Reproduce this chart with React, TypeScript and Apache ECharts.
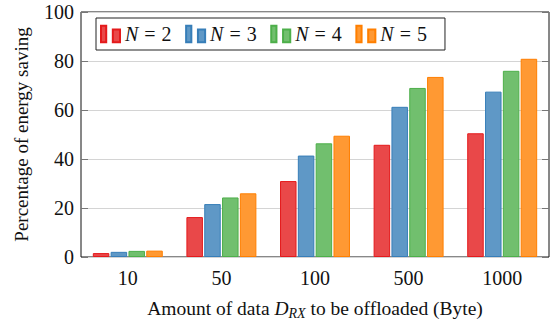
import React, { useEffect, useRef } from "react";
import * as echarts from "echarts";

const categories = ["10", "50", "100", "500", "1000"];
const seriesNames = ["N=2", "N=3", "N=4", "N=5"];
const n2 = [1.6, 16.3, 31.0, 45.8, 50.5];
const n3 = [2.1, 21.6, 41.4, 61.3, 67.5];
const n4 = [2.5, 24.3, 46.4, 69.0, 76.0];
const n5 = [2.6, 26.0, 49.5, 73.5, 80.9];
const yTicks = { min: 0, max: 100, interval: 20 };

const strokeColors = ["#e41a1c", "#377eb8", "#4daf4a", "#ff7f00"];
const fillColors = ["#e94849", "#5f98c6", "#71bf6e", "#ff9933"];

const FONT = "'Liberation Serif', 'Times New Roman', serif";
const FS = 20;

export default function App() {
  const ref = useRef<HTMLDivElement>(null);
  useEffect(() => {
    if (!ref.current) return;
    const chart = echarts.init(ref.current, undefined, { renderer: "svg" });
    const data = [n2, n3, n4, n5];
    chart.setOption({
      animation: false,
      textStyle: { fontFamily: FONT },
      grid: {
        left: 81,
        right: 7,
        top: 12,
        bottom: 67,
        show: true,
        borderColor: "#111",
        borderWidth: 1,
        backgroundColor: "transparent",
      },
      legend: {
        left: 96,
        top: 18,
        orient: "horizontal",
        padding: [6, 18, 6, 4],
        borderColor: "#222",
        borderWidth: 1,
        backgroundColor: "#fff",
        itemWidth: 19,
        itemHeight: 17,
        itemGap: 13.5,
        icon: "path://M0,0h5.3v17h-5.3z M12,4h7.3v13h-7.3z",
        data: seriesNames,
        formatter: (name: string) => {
          const v = name.split("=")[1];
          return "{i|N}{e|=}{t|" + v + "}";
        },
        textStyle: {
          fontFamily: FONT,
          fontSize: FS,
          color: "#111",
          rich: {
            i: { fontFamily: FONT, fontSize: FS, fontStyle: "italic", color: "#111" },
            e: { fontFamily: FONT, fontSize: FS, color: "#111", padding: [0, 6, 0, 6] },
            t: { fontFamily: FONT, fontSize: FS, color: "#111" },
          },
        },
      },
      xAxis: {
        type: "category",
        data: categories,
        axisLine: { show: false },
        axisTick: { show: false },
        axisLabel: { fontFamily: FONT, fontSize: FS, color: "#111", margin: 11 },
        name: "Amount of data {i|D}{sub|RX} to be offloaded (Byte)",
        nameLocation: "middle",
        nameGap: 40,
        nameTextStyle: {
          fontFamily: FONT,
          fontSize: 19.5,
          color: "#111",
          rich: {
            i: { fontFamily: FONT, fontSize: 19.5, fontStyle: "italic", color: "#111" },
            sub: {
              fontFamily: FONT,
              fontSize: 14,
              fontStyle: "italic",
              color: "#111",
              verticalAlign: "bottom",
              padding: [9, 0, 0, 0],
            },
          },
        },
      },
      yAxis: [
        {
          type: "value",
          min: yTicks.min,
          max: yTicks.max,
          interval: yTicks.interval,
          axisLine: { show: false },
          axisTick: { show: true, inside: true, length: 7, lineStyle: { color: "#777" } },
          axisLabel: { fontFamily: FONT, fontSize: FS, color: "#111", margin: 7 },
          splitLine: { show: true, lineStyle: { color: "#d4d4d4", width: 1 } },
          name: "Percentage of energy saving",
          nameLocation: "middle",
          nameGap: 50,
          nameTextStyle: { fontFamily: FONT, fontSize: 19, color: "#111" },
        },
        {
          type: "value",
          position: "right",
          min: yTicks.min,
          max: yTicks.max,
          interval: yTicks.interval,
          axisLine: { show: false },
          axisTick: { show: true, inside: true, length: 7, lineStyle: { color: "#777" } },
          axisLabel: { show: false },
          splitLine: { show: false },
        },
      ],
      series: seriesNames.map((name, i) => ({
        name,
        type: "bar",
        data: data[i],
        barWidth: 16.5,
        barGap: "8%",
        itemStyle: {
          color: fillColors[i],
          borderColor: strokeColors[i],
          borderWidth: 1,
        },
      })),
    });
    return () => chart.dispose();
  }, []);
  return (
    <div
      ref={ref}
      style={{ position: "absolute", left: 0, top: 0, width: 556, height: 325 }}
    />
  );
}
